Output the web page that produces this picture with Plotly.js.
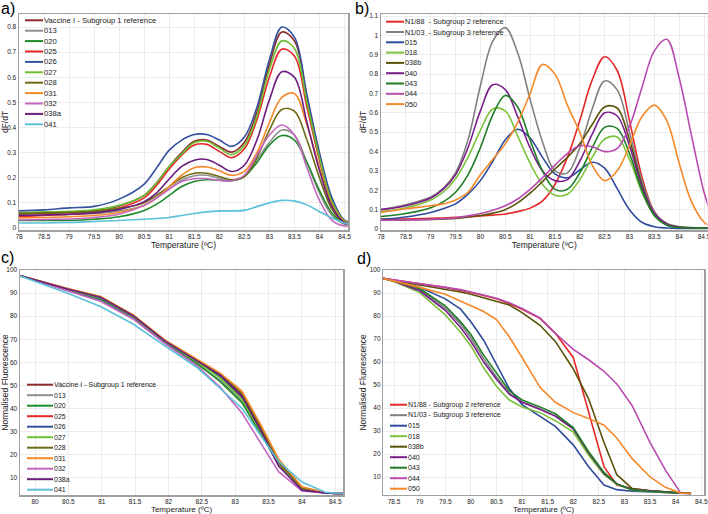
<!DOCTYPE html>
<html>
<head>
<meta charset="utf-8">
<script src="https://cdn.plot.ly/plotly-3.0.1.min.js"></script>
<style>
  body { margin: 0; background: #fff; }
  #chart { width: 708px; height: 514px; }
</style>
</head>
<body>
<div id="chart"></div>
<script>
// ---- data ----
const namesA = ['Vaccine I - Subgroup 1 reference', '013', '020', '025', '026', '027', '028', '031', '032', '038a', '041']
const namesB = ['N1/88  - Subgroup 2 reference', 'N1/03  - Subgroup 3 reference', '015', '018', '038b', '040', '043', '044', '050']
const namesD = ['N1/88 - Subgroup 2 reference', 'N1/03 - Subgroup 3 reference', '015', '018', '038b', '040', '043', '044', '050']

// a) dF/dT, subgroup 1 isolates
const tempA = [78, 78.5, 79, 79.5, 80, 80.5, 80.75, 81, 81.25, 81.5, 81.75, 82, 82.25, 82.5, 82.75, 83, 83.25, 83.5, 83.75, 84, 84.25, 84.5, 84.6]
const dfdtA = [
  [0.055, 0.058, 0.062, 0.070, 0.088, 0.130, 0.180, 0.245, 0.300, 0.345, 0.350, 0.325, 0.302, 0.340, 0.460, 0.650, 0.780, 0.745, 0.520, 0.290, 0.110, 0.030, 0.022],
  [0.050, 0.052, 0.054, 0.058, 0.068, 0.090, 0.120, 0.155, 0.190, 0.208, 0.210, 0.198, 0.190, 0.205, 0.270, 0.340, 0.390, 0.370, 0.260, 0.140, 0.050, 0.015, 0.012],
  [0.030, 0.030, 0.030, 0.035, 0.045, 0.070, 0.095, 0.130, 0.165, 0.185, 0.192, 0.190, 0.188, 0.205, 0.260, 0.330, 0.368, 0.350, 0.260, 0.150, 0.060, 0.018, 0.015],
  [0.045, 0.050, 0.055, 0.062, 0.080, 0.120, 0.170, 0.235, 0.290, 0.330, 0.333, 0.305, 0.280, 0.315, 0.430, 0.600, 0.712, 0.685, 0.480, 0.270, 0.100, 0.028, 0.020],
  [0.068, 0.072, 0.080, 0.086, 0.115, 0.175, 0.240, 0.310, 0.350, 0.372, 0.372, 0.350, 0.325, 0.362, 0.480, 0.670, 0.800, 0.760, 0.530, 0.300, 0.120, 0.030, 0.025],
  [0.060, 0.064, 0.066, 0.072, 0.090, 0.130, 0.180, 0.245, 0.295, 0.340, 0.345, 0.318, 0.292, 0.328, 0.445, 0.630, 0.745, 0.715, 0.500, 0.280, 0.105, 0.028, 0.022],
  [0.058, 0.060, 0.062, 0.066, 0.078, 0.100, 0.130, 0.165, 0.200, 0.218, 0.218, 0.205, 0.192, 0.205, 0.280, 0.390, 0.472, 0.465, 0.350, 0.200, 0.075, 0.020, 0.018],
  [0.040, 0.042, 0.045, 0.050, 0.062, 0.090, 0.120, 0.165, 0.210, 0.240, 0.243, 0.228, 0.210, 0.225, 0.300, 0.420, 0.520, 0.535, 0.410, 0.240, 0.090, 0.025, 0.020],
  [0.032, 0.034, 0.036, 0.042, 0.055, 0.090, 0.120, 0.155, 0.185, 0.196, 0.196, 0.190, 0.188, 0.210, 0.290, 0.370, 0.410, 0.370, 0.240, 0.110, 0.030, 0.008, 0.010],
  [0.050, 0.052, 0.055, 0.060, 0.074, 0.105, 0.140, 0.195, 0.245, 0.270, 0.273, 0.250, 0.225, 0.250, 0.350, 0.510, 0.622, 0.600, 0.420, 0.230, 0.085, 0.022, 0.018],
  [0.020, 0.020, 0.022, 0.026, 0.030, 0.035, 0.038, 0.042, 0.050, 0.058, 0.064, 0.068, 0.068, 0.070, 0.085, 0.100, 0.110, 0.108, 0.092, 0.065, 0.040, 0.020, 0.015]
]

// b) dF/dT, subgroup 2/3 isolates
const tempB = [78, 78.5, 79, 79.25, 79.5, 79.75, 80, 80.25, 80.5, 80.75, 81, 81.25, 81.5, 81.75, 82, 82.25, 82.5, 82.75, 83, 83.25, 83.5, 83.75, 84, 84.25, 84.5, 84.6]
const dfdtB = [
  [0.050, 0.052, 0.055, 0.057, 0.060, 0.063, 0.067, 0.072, 0.078, 0.090, 0.108, 0.145, 0.230, 0.370, 0.560, 0.770, 0.890, 0.820, 0.560, 0.270, 0.090, 0.025, 0.008, 0.005, 0.005, 0.005],
  [0.100, 0.125, 0.165, 0.210, 0.290, 0.460, 0.740, 0.970, 1.040, 0.910, 0.670, 0.450, 0.300, 0.290, 0.420, 0.620, 0.765, 0.720, 0.500, 0.250, 0.090, 0.030, 0.012, 0.008, 0.006, 0.006],
  [0.050, 0.062, 0.085, 0.105, 0.130, 0.180, 0.250, 0.350, 0.460, 0.515, 0.470, 0.370, 0.285, 0.265, 0.305, 0.345, 0.315, 0.210, 0.100, 0.035, 0.012, 0.005, 0.003, 0.003, 0.003, 0.003],
  [0.090, 0.110, 0.150, 0.190, 0.260, 0.370, 0.510, 0.620, 0.610, 0.480, 0.340, 0.230, 0.175, 0.180, 0.255, 0.370, 0.465, 0.475, 0.360, 0.190, 0.070, 0.025, 0.010, 0.006, 0.005, 0.005],
  [0.045, 0.047, 0.050, 0.052, 0.055, 0.062, 0.070, 0.082, 0.100, 0.135, 0.185, 0.245, 0.310, 0.370, 0.440, 0.540, 0.630, 0.625, 0.460, 0.230, 0.075, 0.025, 0.010, 0.006, 0.005, 0.005],
  [0.100, 0.120, 0.160, 0.205, 0.280, 0.420, 0.610, 0.745, 0.720, 0.580, 0.420, 0.300, 0.250, 0.255, 0.350, 0.490, 0.600, 0.585, 0.430, 0.220, 0.080, 0.025, 0.010, 0.006, 0.005, 0.005],
  [0.065, 0.080, 0.110, 0.140, 0.190, 0.280, 0.420, 0.590, 0.690, 0.630, 0.460, 0.300, 0.205, 0.205, 0.290, 0.420, 0.525, 0.520, 0.390, 0.200, 0.070, 0.020, 0.008, 0.005, 0.005, 0.005],
  [0.045, 0.047, 0.050, 0.053, 0.058, 0.068, 0.080, 0.097, 0.120, 0.155, 0.205, 0.265, 0.330, 0.390, 0.430, 0.425, 0.400, 0.415, 0.530, 0.730, 0.920, 0.980, 0.780, 0.480, 0.190, 0.110],
  [0.085, 0.105, 0.120, 0.130, 0.150, 0.190, 0.280, 0.360, 0.440, 0.550, 0.700, 0.850, 0.800, 0.640, 0.500, 0.330, 0.250, 0.300, 0.430, 0.580, 0.640, 0.560, 0.340, 0.140, 0.035, 0.020]
]

// c) normalised melt curves, subgroup 1 isolates
const tempC = [79.78, 80.5, 80.98, 81.47, 81.95, 82.43, 82.78, 83.1, 83.4, 83.65, 84.0, 84.35, 84.62]
const fluoC = [
  [97.6, 91.8, 88.3, 80.3, 69.3, 60.8, 54.6, 46.0, 30.5, 16.5, 5.0, 3.3, 3.0],
  [97.6, 91.0, 87.0, 79.0, 68.3, 59.0, 52.0, 43.0, 28.5, 15.5, 5.2, 3.3, 3.0],
  [97.6, 91.2, 87.3, 79.3, 68.6, 59.5, 51.5, 42.5, 28.0, 15.8, 5.0, 3.3, 3.0],
  [97.6, 91.6, 88.0, 80.0, 69.0, 60.5, 54.0, 45.0, 30.0, 16.0, 5.0, 3.3, 3.0],
  [97.6, 91.3, 87.6, 79.6, 68.8, 60.2, 53.8, 44.8, 29.5, 15.5, 4.8, 3.3, 3.0],
  [97.6, 91.5, 87.9, 79.9, 69.0, 60.2, 53.0, 44.0, 29.0, 15.5, 4.9, 3.3, 3.0],
  [97.6, 91.8, 88.4, 80.5, 69.4, 61.0, 55.0, 46.5, 31.0, 17.0, 5.4, 3.4, 3.0],
  [97.6, 91.9, 88.5, 80.6, 69.6, 61.3, 55.2, 47.5, 32.0, 18.0, 6.0, 3.5, 3.0],
  [97.6, 90.8, 86.5, 78.8, 68.0, 58.3, 49.0, 38.0, 24.0, 12.5, 4.2, 3.3, 3.0],
  [97.6, 91.7, 88.2, 80.2, 69.2, 60.6, 54.3, 45.3, 29.5, 15.0, 4.5, 3.3, 3.0],
  [97.4, 89.8, 84.2, 76.6, 67.0, 57.7, 48.5, 40.0, 27.5, 17.0, 8.0, 3.6, 3.0]
]

// d) normalised melt curves, subgroup 2/3 isolates
const tempD = [78.28, 78.5, 79, 79.5, 79.8, 80, 80.25, 80.5, 80.75, 81, 81.35, 81.65, 82, 82.3, 82.6, 82.85, 83.15, 83.5, 83.8, 84.1, 84.3]
const fluoD = [
  [96.4, 95.6, 94.0, 92.5, 91.3, 90.3, 89.0, 87.5, 85.5, 83.0, 79.0, 72.5, 62.0, 38.0, 14.5, 6.5, 5.0, 4.0, 3.5, 3.0, 2.8],
  [96.4, 95.3, 91.5, 83.5, 76.5, 70.5, 61.5, 53.5, 46.5, 42.5, 39.5, 36.5, 31.0, 20.5, 11.5, 7.0, 4.5, 3.8, 3.4, 3.0, 2.8],
  [96.4, 95.5, 92.5, 87.5, 83.0, 77.5, 69.5, 59.0, 48.5, 41.5, 36.3, 32.0, 24.0, 14.5, 6.5, 4.5, 3.8, 3.5, 3.3, 3.0, 2.8],
  [96.4, 95.0, 90.2, 80.5, 73.0, 67.0, 57.5, 49.5, 43.5, 40.5, 38.0, 34.5, 29.5, 19.5, 11.0, 6.8, 4.3, 3.7, 3.3, 3.0, 2.8],
  [96.4, 95.4, 93.5, 91.8, 90.5, 89.5, 88.0, 86.5, 84.8, 81.5, 76.0, 69.0, 57.0, 44.0, 25.0, 11.0, 5.0, 4.0, 3.5, 3.0, 2.8],
  [96.4, 95.2, 91.0, 82.5, 75.0, 69.0, 60.0, 52.5, 46.0, 42.5, 39.5, 36.5, 31.0, 20.5, 11.5, 7.0, 4.5, 3.8, 3.4, 3.0, 2.8],
  [96.4, 95.4, 92.0, 84.5, 77.5, 72.0, 63.0, 55.0, 47.5, 43.5, 40.5, 37.5, 31.5, 21.0, 12.0, 7.0, 4.5, 3.8, 3.4, 3.0, 2.8],
  [96.4, 95.7, 94.2, 92.7, 91.5, 90.5, 89.3, 87.8, 85.8, 83.3, 79.2, 72.5, 65.5, 61.0, 56.0, 50.5, 41.0, 25.0, 13.0, 3.0, null],
  [96.4, 95.3, 92.5, 89.5, 86.5, 84.5, 82.0, 78.5, 71.0, 62.0, 49.0, 42.5, 38.0, 35.5, 32.5, 27.0, 18.0, 10.0, 5.5, 3.0, 2.8]
]

// ---- styling ----
const colorsA = ['#8c2a2a', '#8e8e8e', '#1f8a2a', '#e62828', '#34509e', '#6cc030', '#6e6a12', '#f5892a', '#c467c0', '#6a1d7c', '#5cc0d8']
const colorsB = ['#e62828', '#808080', '#2f4b9c', '#7cc23a', '#5a5206', '#7a1f8a', '#1e7d24', '#b84ab0', '#f5892a']
const colorText = '#222'
const colorGrid = '#ececec'
const colorFrame = '#a0a0a0'

const W = 708, H = 514
const fx = p => p / W
const fy = p => 1 - p / H

const makeTraces = (xs, ys, colors, xa, ya, shape) => ys.map((y, i) => ({
  x: xs, y: y, type: 'scatter', mode: 'lines', xaxis: xa, yaxis: ya,
  line: {color: colors[i], width: 1.6, shape: shape, smoothing: 1},
  hoverinfo: 'skip'
}))

const data = [
  ...makeTraces(tempA, dfdtA, colorsA, 'x', 'y', 'spline'),
  ...makeTraces(tempB, dfdtB, colorsB, 'x2', 'y2', 'spline'),
  ...makeTraces(tempC, fluoC, colorsA, 'x3', 'y3', 'linear'),
  ...makeTraces(tempD, fluoD, colorsB, 'x4', 'y4', 'linear')
]

const xAxis = (left, right, range, anchor, titleSize, standoff) => ({
  domain: [fx(left), fx(right)], range: range, anchor: anchor,
  tick0: 78, dtick: 0.5, ticks: '', showgrid: true, gridcolor: colorGrid, zeroline: false,
  showline: true, mirror: true, linecolor: colorFrame, linewidth: 1.5,
  tickfont: {size: 6.5, color: colorText}, ticklabeloverflow: 'allow',
  title: {text: 'Temperature (ºC)', font: {size: titleSize, color: colorText}, standoff: standoff}
})
const yAxis = (top, bottom, range, anchor, dtick, tick0, title) => ({
  domain: [fy(bottom), fy(top)], range: range, anchor: anchor,
  tick0: tick0, dtick: dtick, ticks: '', showgrid: true, gridcolor: colorGrid, zeroline: false,
  showline: true, mirror: true, linecolor: colorFrame, linewidth: 1.5,
  tickfont: {size: 6.5, color: colorText}, ticklabeloverflow: 'allow',
  title: {text: title, font: {size: 8.5, color: colorText}, standoff: 1}
})

// hand-drawn legends (plotly legend rows are too tall for these)
const shapes = []
const annotations = []
const addLegend = (names, colors, x0, x1, yFirst, step, size) => {
  names.forEach((name, i) => {
    const y = yFirst + i * step
    shapes.push({type: 'line', xref: 'paper', yref: 'paper', x0: fx(x0), x1: fx(x1), y0: fy(y), y1: fy(y),
      line: {color: colors[i], width: 2}})
    annotations.push({text: name, xref: 'paper', yref: 'paper', x: fx(x1), y: fy(y), xanchor: 'left', yanchor: 'middle',
      showarrow: false, borderpad: 0, font: {size: size, color: colorText}})
  })
}
addLegend(namesA, colorsA, 25, 43, 20.3, 10.4, 7.7)
addLegend(namesB, colorsB, 386, 404, 21.7, 10.3, 7.3)
addLegend(namesA, colorsA, 27, 53, 384.7, 10.5, 7.0)
addLegend(namesD, colorsB, 390, 407, 404.7, 10.5, 7.0)

const panelLabel = (text, x, y) => ({text: text, xref: 'paper', yref: 'paper', x: fx(x), y: fy(y),
  xanchor: 'left', yanchor: 'top', showarrow: false, borderpad: 0, font: {size: 16, color: '#000'}})
annotations.push(panelLabel('a)', 0, -1), panelLabel('b)', 354, -1), panelLabel('c)', 0, 248), panelLabel('d)', 356, 249))

const layout = {
  width: W, height: H,
  margin: {l: 0, r: 0, t: 0, b: 0},
  paper_bgcolor: '#fff', plot_bgcolor: '#fff',
  font: {family: 'Liberation Sans, Arial, sans-serif', color: colorText},
  showlegend: false,
  xaxis: xAxis(19, 348, [78, 84.57], 'y', 8.5, 2),
  yaxis: yAxis(14, 230, [-0.008, 0.852], 'x', 0.1, 0, 'dF/dT'),
  xaxis2: xAxis(381, 707.5, [78, 84.57], 'y2', 8.5, 2),
  yaxis2: yAxis(14, 230, [-0.005, 1.1105], 'x2', 0.1, 0, 'dF/dT'),
  xaxis3: xAxis(20, 343, [79.775, 84.615], 'y3', 8, 0),
  yaxis3: yAxis(270, 495, [2.4, 100.05], 'x3', 10, 10, 'Normalised Fluorescence'),
  xaxis4: xAxis(383.3, 704, [78.29, 84.553], 'y4', 8, 0),
  yaxis4: yAxis(270, 494.7, [2.3, 100.05], 'x4', 10, 10, 'Normalised Fluorescence'),
  shapes: shapes,
  annotations: annotations
}

Plotly.newPlot('chart', data, layout, {displayModeBar: false, staticPlot: true})
</script>
</body>
</html>
